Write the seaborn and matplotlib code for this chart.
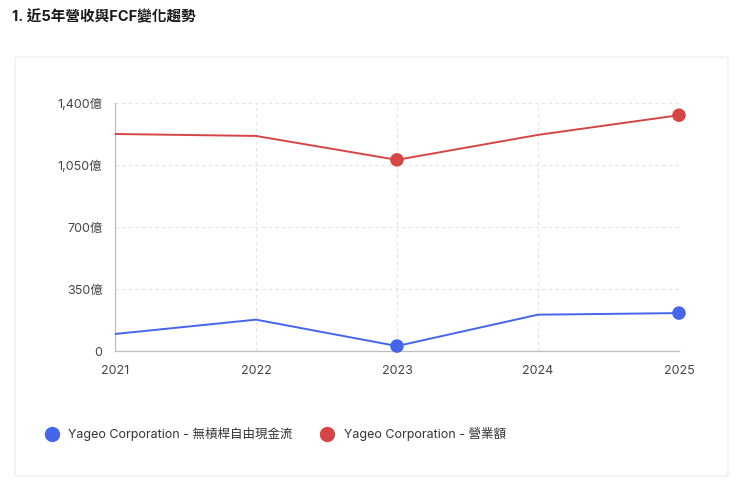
import numpy as np
import pandas as pd
import seaborn as sns
import matplotlib.pyplot as plt
from matplotlib.patches import FancyBboxPatch
from matplotlib.lines import Line2D
from matplotlib.ticker import FuncFormatter

years = [2021, 2022, 2023, 2024, 2025]
fcf_values = [96, 177, 28, 205, 214]          # 億
revenue_values = [1225, 1214, 1079, 1220, 1331]  # 億
series_names = ['Yageo Corporation - 無槓桿自由現金流', 'Yageo Corporation - 營業額']
y_ticks = [0, 350, 700, 1050, 1400]

blue = '#4566EC'
red = '#D64545'

sns.set_theme(style='white')
plt.rcParams['font.family'] = ['Inter', 'Noto Sans CJK TC', 'DejaVu Sans']

df = pd.DataFrame({'Year': years * 2,
                   'Value': fcf_values + revenue_values,
                   'Series': [series_names[0]] * 5 + [series_names[1]] * 5})

fig = plt.figure(figsize=(7.4, 4.82), dpi=100)
fig.patch.set_facecolor('white')

# card behind the chart
card = FancyBboxPatch((15 / 740, 1 - 476 / 482), 713 / 740, 419 / 482,
                      boxstyle='round,pad=0,rounding_size=0.004', transform=fig.transFigure,
                      facecolor='white', edgecolor='#EBEBEB', linewidth=0.8, zorder=-1)
fig.patches.append(card)

fig.text(12 / 740, 1 - 17 / 482, '1. 近5年營收與FCF變化趨勢', fontsize=10.5, fontweight='bold',
         color='#1A1A1A', va='center', ha='left')

ax = fig.add_axes([115 / 740, 1 - 351 / 482, 564 / 740, 248 / 482])
ax.set_facecolor('none')

sns.lineplot(data=df, x='Year', y='Value', hue='Series', palette=[blue, red], linewidth=1.4,
             legend=False, ax=ax, zorder=3)

# markers at min and max points of each series
for vals, col in [(fcf_values, blue), (revenue_values, red)]:
    idx = [int(np.argmin(vals)), int(np.argmax(vals))]
    ax.scatter([years[i] for i in idx], [vals[i] for i in idx], s=95, color=col, zorder=4,
               edgecolors='none', clip_on=False)

ax.set_xlim(2021, 2025)
ax.set_ylim(0, 1400)
ax.set_xticks(years)
ax.set_yticks(y_ticks)
ax.yaxis.set_major_formatter(FuncFormatter(lambda v, p: '0' if v == 0 else f'{int(v):,}億'))
ax.grid(True, color='#E3E3E3', linestyle=(0, (3, 3)), linewidth=0.8)
ax.set_axisbelow(True)
ax.set_xlabel('')
ax.set_ylabel('')

for side in ['top', 'right']:
    ax.spines[side].set_visible(False)
for side in ['left', 'bottom']:
    ax.spines[side].set_color('#BDBDBD')
    ax.spines[side].set_linewidth(0.9)
ax.tick_params(axis='both', length=5, width=0.9, color='#BDBDBD', labelsize=9, labelcolor='#444444',
               direction='out', pad=4)
ax.tick_params(axis='x', pad=5)

handles = [Line2D([], [], marker='o', linestyle='none', markersize=10, color=c) for c in [blue, red]]
fig.legend(handles, series_names, loc='center left', bbox_to_anchor=(33 / 740, 1 - 434 / 482),
           ncol=2, frameon=False, fontsize=9, handletextpad=0.72, columnspacing=2.15,
           labelcolor='#333333', handlelength=1.2)

fig.savefig('out.png', dpi=100, facecolor='white')
